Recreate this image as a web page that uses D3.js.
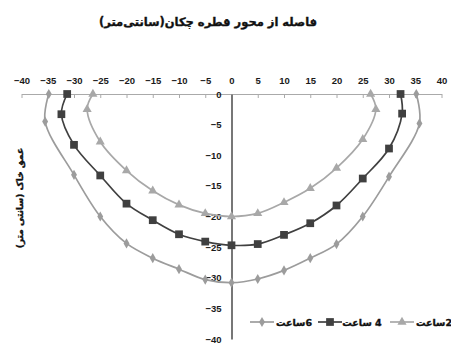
<!DOCTYPE html>
<html>
<head>
<meta charset="utf-8">
<script src="https://cdn.jsdelivr.net/npm/d3@7"></script>
<style>
    body { margin: 0; background: #fff; }
    .tick text { font-family: 'Liberation Sans', Arial, sans-serif; font-weight: bold; font-size: 9.5px; fill: #1a1a1a; }
</style>
</head>
<body>
<script>
// data (distance from emitter axis / soil depth, cm)
const seriesNames = ['6ساعت', '4 ساعت', '2ساعت'];

const distance6 = [-34.8, -35.5, -30, -25, -20, -15, -10, -5, 0, 5, 10, 15, 20, 25, 30, 35.8, 35.2];
const depth6 = [0, -4.5, -13.2, -20, -24.4, -26.8, -28.6, -30.3, -30.8, -30.2, -28.8, -26.8, -24.5, -20, -13.5, -4.8, 0];

const distance4 = [-31.3, -32.4, -30, -25, -20, -15, -10, -5, 0, 5, 10, 15, 20, 25, 30, 32.5, 32.2];
const depth4 = [0, -3.3, -8.3, -13.3, -17.9, -20.6, -22.9, -24.1, -24.7, -24.5, -23, -21.1, -18.2, -13.8, -8.9, -3.2, 0];

const distance2 = [-26.4, -27.5, -25, -20, -15, -10, -5, 0, 5, 10, 15, 20, 25, 27.5, 26.5];
const depth2 = [0, -2.5, -7.8, -12.5, -15.8, -18.1, -19.5, -20, -19.5, -17.7, -15.4, -12.1, -7.4, -2.5, 0];

const xTicks = [-40, -35, -30, -25, -20, -15, -10, -5, 0, 5, 10, 15, 20, 25, 30, 35, 40];
const yTicks = [0, -5, -10, -15, -20, -25, -30, -35, -40];

const svgValues = {
    width: 451,
    height: 345,
    left: 21.5,
    right: 441.5,
    top: 94,
    bottom: 339
}

function persianText(sel, size){
    // bold persian labels, a little heavier than DejaVu bold
    sel.attr('direction', 'rtl')
        .attr('text-anchor', 'middle')
        .style('font-family', 'DejaVu Sans')
        .style('font-weight', 'bold')
        .style('font-size', size + 'px')
        .style('fill', '#111')
        .style('stroke', '#111')
        .style('stroke-width', 0.35)
}

function makeChart(){
    const svg = d3.select('body')
        .append('svg')
        .attr('width', svgValues.width)
        .attr('height', svgValues.height)

    const xScale = d3.scaleLinear()
        .domain([-40, 40])
        .range([svgValues.left, svgValues.right])

    const yScale = d3.scaleLinear()
        .domain([-40, 0])
        .range([svgValues.bottom, svgValues.top])

    svg // title
        .append('text')
        .text('فاصله از محور قطره چکان(سانتی‌متر)')
        .attr('x', 208)
        .attr('y', 26)
        .call(persianText, 11.5)

    svg // y title
        .append('text')
        .text('عمق خاک (سانتی متر)')
        .attr('transform', 'translate(23,198) rotate(-90)')
        .call(persianText, 9)

    const xAxis = d3.axisTop(xScale)
        .tickValues(xTicks)
        .tickSizeInner(-4)
        .tickSizeOuter(0)
        .tickPadding(10)

    const gx = svg.append('g')
        .attr('transform', 'translate(0,' + yScale(0) + ')')
        .call(xAxis)
    gx.select('.domain').attr('stroke', '#aaa')
    gx.selectAll('.tick line').attr('stroke', '#aaa')

    const yAxis = d3.axisLeft(yScale)
        .tickValues(yTicks)
        .tickSize(0)
        .tickPadding(10)

    const gy = svg.append('g')
        .attr('transform', 'translate(' + xScale(0) + ',0)')
        .call(yAxis)
    gy.select('.domain').attr('stroke', '#777').attr('stroke-width', 2)

    const series = [
        {name: seriesNames[0], xs: distance6, ys: depth6, color: '#9c9c9c', symbol: d3.symbolDiamond, size: 30},
        {name: seriesNames[1], xs: distance4, ys: depth4, color: '#404040', symbol: d3.symbolSquare, size: 60},
        {name: seriesNames[2], xs: distance2, ys: depth2, color: '#a8a8a8', symbol: d3.symbolTriangle, size: 36}
    ]

    const line = d3.line()
        .x(d => xScale(d[0]))
        .y(d => yScale(d[1]))
        .curve(d3.curveCatmullRom.alpha(0.5))

    series.forEach(s => {
        const pts = s.xs.map((x, i) => [x, s.ys[i]])
        svg.append('path')
            .datum(pts)
            .attr('d', line)
            .attr('fill', 'none')
            .attr('stroke', s.color)
            .attr('stroke-width', 1.7)

        svg.selectAll(null)
            .data(pts)
            .enter()
            .append('path')
            .attr('d', d3.symbol().type(s.symbol).size(s.size))
            .attr('transform', d => 'translate(' + xScale(d[0]) + ',' + yScale(d[1]) + ')')
            .attr('fill', s.color)
    })

    // legend
    const legendX = [250, 318, 390]
    const legend = svg.append('g').attr('transform', 'translate(0,322)')
    series.forEach((s, i) => {
        const g = legend.append('g').attr('transform', 'translate(' + legendX[i] + ',0)')
        g.append('line')
            .attr('x1', 0).attr('x2', 24)
            .attr('stroke', s.color)
            .attr('stroke-width', 1.7)
        g.append('path')
            .attr('d', d3.symbol().type(s.symbol).size(s.size))
            .attr('transform', 'translate(12,0)')
            .attr('fill', s.color)
        g.append('text')
            .text(s.name)
            .attr('x', 44)
            .attr('y', 3.5)
            .call(persianText, 9.5)
    })
}

makeChart();
</script>
</body>
</html>
